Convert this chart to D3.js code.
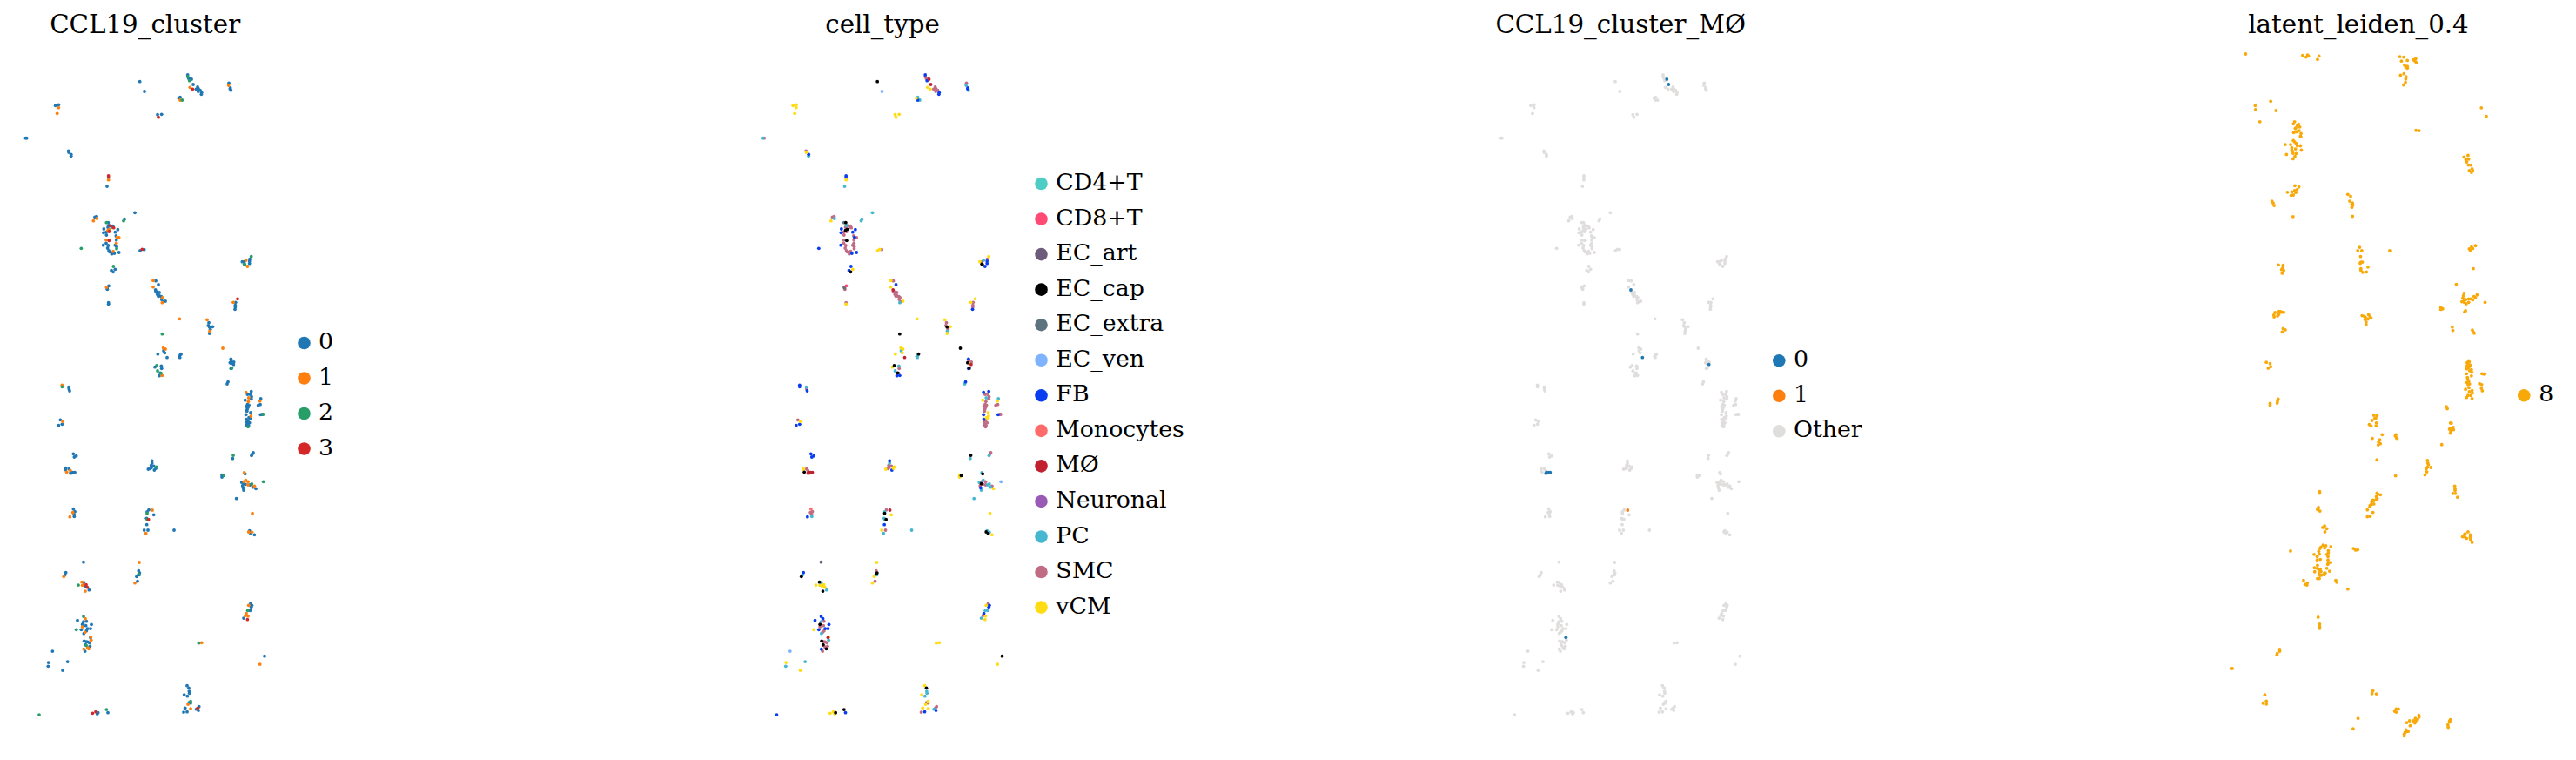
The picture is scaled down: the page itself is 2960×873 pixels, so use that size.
<!DOCTYPE html>
<html><head><meta charset="utf-8">
<script src="https://cdn.jsdelivr.net/npm/d3@7/dist/d3.min.js"></script>
<style>html,body{margin:0;padding:0;background:#fff}svg{display:block}text{font-family:"DejaVu Serif",serif;fill:#000}</style>
</head><body><div id="chart"></div>
<script>
const clusterNames = ["0","1","2","3"];
const clusterColors = ["#1f77b4","#ff7f0e","#279e68","#d62728"];
const cellTypes = ["CD4+T","CD8+T","EC_art","EC_cap","EC_extra","EC_ven","FB","Monocytes","MØ","Neuronal","PC","SMC","vCM"];
const cellTypeColors = ["#4ecdc4","#ff4b73","#6c5b7b","#000000","#5d737e","#7fb2ff","#0a3cf0","#ff6b6b","#c1202f","#9b59b6","#45b7d1","#c06c84","#ffdc14"];
const cellTypeDrawOrder = [11,2,9,4,10,0,5,7,1,6,12,8,3];
const macrophageNames = ["0","1","Other"];
const macrophageColors = ["#1f77b4","#ff7f0e","#e0dddd"];
const leidenNames = ["8"];
const leidenColors = ["#f8a90a"];
const titles = ["CCL19_cluster","cell_type","CCL19_cluster_MØ","latent_leiden_0.4"];

// spatial position x, spatial position y, cell type index
const cluster0 = [
[482,281,3],[498,315,5],[647,258,6],[655,272,11],[650,270,11],[660,273,8],[666,291,8],[676,307,11],[681,300,11],[684,306,11],[683,315,11],[695,319,6],[694,325,6],[690,311,11],
[789,286,11],[794,303,6],[796,311,10],[793,306,6],[616,338,12],[621,335,10],[191,364,12],[202,361,12],[543,395,12],[557,394,12],
[88,476,10],[92,476,11],[236,520,11],[237,525,12],[245,532,6],[245,538,10],[374,612,6],[369,642,10],[327,748,11],[333,746,11],[465,733,10],[429,755,10],
[373,767,3],[375,777,10],[372,783,11],[389,779,11],[388,783,11],[358,789,6],[406,791,6],[397,800,6],[357,802,6],[366,800,11],[367,810,11],[400,813,11],[401,827,11],[366,838,11],[356,845,6],[373,846,11],[397,845,11],[402,850,11],[371,855,11],[375,864,11],[385,875,11],[394,873,6],[410,870,6],[378,868,11],
[483,864,12],[497,860,11],[397,928,12],[384,932,6],[390,937,3],[375,985,1],[369,992,4],[370,997,11],[374,1043,11],[374,1048,12],
[537,968,11],[546,981,6],[536,999,8],[537,1004,11],[541,1006,11],[549,1008,11],[542,1014,11],[549,1019,11],[556,1022,11],[546,1021,11],[557,1032,11],[570,1038,12],[562,1040,11],
[861,893,11],[835,902,12],[842,902,11],[860,900,6],[860,908,6],[812,1042,11],[811,1052,11],[811,1058,11],[810,1066,6],
[720,1112,11],[718,1122,11],[733,1126,12],[722,1127,3],[725,1135,11],[722,1149,12],[564,1209,10],[568,1216,12],[544,1220,12],[576,1232,8],
[622,1222,10],[618,1228,10],[620,1232,10],[624,1220,3],[796,1237,6],[797,1244,11],[806,1248,11],[793,1250,3],[805,1256,8],[797,1252,12],[796,1270,6],
[534,1265,12],[556,1261,10],[557,1270,11],[552,1285,3],[549,1295,6],[786,1316,6],[783,1323,10],
[237,1334,10],[238,1341,11],[240,1347,6],[208,1447,11],[214,1462,6],[202,1466,6],
[866,1349,6],[853,1359,11],[862,1359,11],[867,1367,11],[866,1375,11],[845,1379,12],[853,1394,11],[858,1396,11],[849,1401,11],[855,1404,11],[852,1411,11],[851,1417,11],[864,1422,12],[848,1429,6],[858,1439,12],[864,1442,12],[849,1445,6],[855,1449,11],[850,1455,11],[860,1457,11],[853,1462,11],[850,1465,11],[857,1467,11],
[899,1374,10],[897,1394,11],[890,1397,11],[898,1429,6],[904,1428,11],
[253,1564,6],[263,1571,6],[256,1575,6],[873,1560,11],[870,1564,11],[867,1570,10],[802,1580,10],
[524,1588,6],[524,1596,10],[521,1604,11],[530,1606,11],[522,1611,11],[511,1617,12],[518,1615,11],[532,1620,6],[537,1614,12],
[227,1613,12],[226,1619,12],[238,1616,11],[243,1631,8],[252,1628,8],[248,1630,8],[245,1628,8],[258,1628,8],
[845,1633,3],[765,1637,12],[765,1644,12],[833,1662,10],[840,1667,3],[846,1669,11],[836,1674,11],[862,1671,10],[838,1681,6],[840,1689,10],[872,1679,10],[882,1684,12],[815,1718,10],
[860,1829,10],[864,1839,3],[877,1843,12],[253,1754,7],[258,1763,11],[255,1772,11],[256,1780,10],
[513,1757,11],[507,1764,10],[530,1774,12],[505,1786,10],[506,1808,6],[497,1827,12],[510,1827,11],[600,1827,10],
[288,1937,2],[478,1967,11],[481,1974,3],[480,1981,10],[471,1987,12],[474,2003,11],[227,1973,6],[224,1981,10],
[289,2007,10],[293,2021,12],[307,2033,10],
[864,2080,11],[868,2086,6],[866,2092,6],[862,2104,10],[840,2130,10],
[267,2138,6],[298,2141,11],[288,2142,10],[286,2149,11],[315,2152,6],[284,2152,3],[296,2156,11],[280,2170,6],[302,2166,6],[312,2166,6],[298,2174,11],[289,2183,10],
[312,2197,8],[290,2209,3],[297,2211,11],[302,2212,11],[308,2215,11],[295,2222,3],[310,2227,11],[293,2244,11],
[181,2244,5],[167,2283,12],[166,2296,10],[233,2280,10],[216,2310,12],[912,2261,3],
[645,2363,12],[651,2371,3],[652,2382,10],[653,2389,10],[635,2394,12],[646,2399,10],[652,2421,11],[657,2423,11],[638,2440,12],[645,2453,6],[633,2454,11],
[686,2435,11],[677,2444,10],[684,2448,6],[335,2460,12],[338,2456,3],[372,2456,6]
];
const cluster1 = [
[655,301,12],[788,294,10],[621,345,6],[202,371,12],[197,391,12],[374,620,12],[334,753,10],[322,761,12],
[378,790,3],[372,794,3],[403,818,6],[410,819,11],[366,827,11],[401,838,11],[390,866,11],
[367,990,11],[528,967,12],[528,989,12],[560,1026,11],[559,1043,10],[848,897,10],[853,918,6],[804,1042,12],
[619,1099,12],[714,1102,12],[723,1141,10],[768,1200,3],[563,1199,12],[570,1203,12],[559,1294,6],
[214,1327,6],[216,1452,12],[848,1352,6],[857,1371,10],[856,1384,11],[865,1434,12],[896,1382,12],
[242,1621,11],[230,1627,3],[842,1629,10],[847,1655,10],[841,1660,11],[855,1660,11],[855,1671,11],[877,1675,11],
[870,1769,12],[857,1833,3],[868,1834,10],[251,1766,11],[241,1781,6],[525,1758,8],[503,1838,10],
[480,1938,12],[465,2009,12],[220,1987,3],[282,2006,3],[284,2017,12],[294,2037,3],
[857,2086,12],[849,2114,6],[855,2123,12],[846,2121,11],
[294,2132,6],[284,2160,11],[293,2179,11],[313,2195,12],[314,2206,10],[302,2231,11],[306,2236,3],[289,2237,6],
[695,2215,12],[896,2289,12],[648,2427,12],[657,2442,12]
];
const cluster2 = [
[647,264,11],[653,278,6],[628,345,10],[426,761,10],[367,767,4],[280,856,6],[402,857,11],[391,918,6],
[866,884,12],[844,912,3],[842,910,3],[559,1151,3],[799,1269,3],[540,1260,3],[543,1278,10],[555,1286,11],
[214,1333,6],[855,1471,11],[907,1428,11],[804,1569,3],[540,1609,12],[771,1639,3],[908,1660,5],[868,1668,10],
[507,1769,3],[507,1790,10],[478,1978,3],[270,2016,12],[854,2104,10],[288,2124,6],[263,2170,12],[297,2224,11],
[685,2216,12],[657,2417,12],[367,2445,3],[135,2463,6]
];
const cluster3 = [
[664,307,12],[546,404,12],[374,606,6],[380,778,11],[392,785,11],[376,798,11],[376,829,3],[490,859,12],
[819,1030,12],[512,1790,3],[297,2015,12],[301,2024,12],[853,2135,12],[682,2440,11],[319,2458,12],[330,2453,12]
];

const clusterLists = [cluster0,cluster1,cluster2,cluster3];
const spots = clusterLists.flatMap((list,c)=>list.map(d=>({x:d[0],y:d[1],type:d[2],cluster:c})));

const W=2960,H=873,R=1.9;
const svg=d3.select("#chart").append("svg").attr("width",W).attr("height",H).attr("viewBox",`0 0 ${W} ${H}`);
const spatialX=[0,950], spatialY=[0,2600];

function panel(xRange,yRange){
  return {x:d3.scaleLinear().domain(spatialX).range(xRange), y:d3.scaleLinear().domain(spatialY).range(yRange)};
}
const p1=panel([0,316.7],[0,866.7]);
const p2=panel([847.5,847.5+316.7],[0,866.7]);
const p3=panel([1695.3,1695.3+316.7],[0,866.7]);
const p4=panel([2532.3,2532.3+338.2],[937.1,937.1-923.8]);

const TITLE=29.3, LEG=26.8;
function dots(data,p,color){
  svg.append("g").selectAll("circle").data(data).join("circle")
    .attr("cx",d=>p.x(d.x)).attr("cy",d=>p.y(d.y)).attr("r",R).attr("fill",color);
}
function legend(names,colors,dotX,textX,ys){
  const g=svg.append("g");
  names.forEach((n,i)=>{
    g.append("circle").attr("cx",dotX).attr("cy",ys(i)).attr("r",7.3).attr("fill",colors[i]);
    g.append("text").attr("x",textX).attr("y",ys(i)+7).attr("font-size",LEG).text(n);
  });
}
[[titles[0],166.7],[titles[1],1014],[titles[2],1862.3],[titles[3],2710]].forEach(([t,x])=>{
  svg.append("text").attr("x",x).attr("y",37.5).attr("text-anchor","middle").attr("font-size",TITLE).text(t);
});

dots(spots,p1,d=>clusterColors[d.cluster]);
const rank=new Map(cellTypeDrawOrder.map((t,i)=>[t,i]));
dots(spots.slice().sort((a,b)=>rank.get(a.type)-rank.get(b.type)),p2,d=>cellTypeColors[d.type]);
const mIdx=cellTypes.indexOf("MØ");
dots(spots.filter(d=>d.type!==mIdx),p3,macrophageColors[2]);
dots(spots.filter(d=>d.type===mIdx),p3,d=>macrophageColors[d.cluster]);
dots(spots,p4,leidenColors[0]);

legend(clusterNames,clusterColors,349.5,366,i=>394+i*40.5);
legend(cellTypes,cellTypeColors,1196.5,1213.3,i=>211+i*40.55);
legend(macrophageNames,macrophageColors,2044.3,2061,i=>414.3+i*40.5);
legend(leidenNames,leidenColors,2900.3,2917.2,i=>454.3);
</script></body></html>
